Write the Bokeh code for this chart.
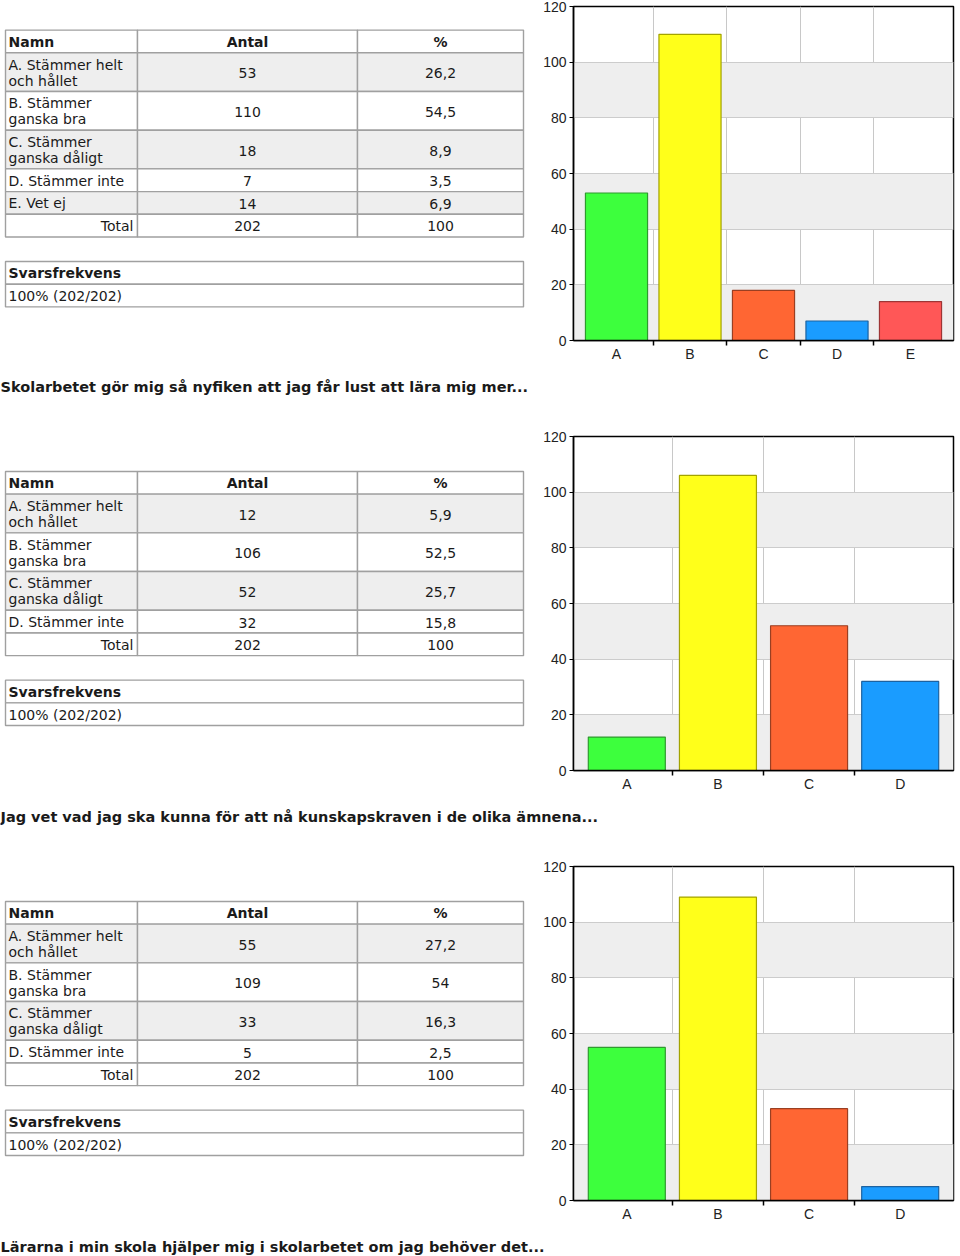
from bokeh.plotting import figure
from bokeh.models import Range1d, FixedTicker, ColumnDataSource
from bokeh.layouts import column, row
from bokeh.embed import file_html
from bokeh.resources import INLINE
from bokeh.core.properties import value

# ---------------- data ----------------
header = ["Namn", "Antal", "%"]
total_label = "Total"
rate_label = "Svarsfrekvens"

titles = [
    "Skolarbetet gör mig så nyfiken att jag får lust att lära mig mer...",
    "Jag vet vad jag ska kunna för att nå kunskapskraven i de olika ämnena...",
    "Lärarna i min skola hjälper mig i skolarbetet om jag behöver det...",
]

names_1 = ["A. Stämmer helt\noch hållet", "B. Stämmer\nganska bra",
           "C. Stämmer\nganska dåligt", "D. Stämmer inte", "E. Vet ej"]
letters_1 = ["A", "B", "C", "D", "E"]
counts_1 = [53, 110, 18, 7, 14]
pcts_1 = ["26,2", "54,5", "8,9", "3,5", "6,9"]

names_2 = ["A. Stämmer helt\noch hållet", "B. Stämmer\nganska bra",
           "C. Stämmer\nganska dåligt", "D. Stämmer inte"]
letters_2 = ["A", "B", "C", "D"]
counts_2 = [12, 106, 52, 32]
pcts_2 = ["5,9", "52,5", "25,7", "15,8"]

names_3 = ["A. Stämmer helt\noch hållet", "B. Stämmer\nganska bra",
           "C. Stämmer\nganska dåligt", "D. Stämmer inte"]
letters_3 = ["A", "B", "C", "D"]
counts_3 = [55, 109, 33, 5]
pcts_3 = ["27,2", "54", "16,3", "2,5"]

totals = [202, 202, 202]
total_pcts = ["100", "100", "100"]
rates = ["100% (202/202)", "100% (202/202)", "100% (202/202)"]

y_ticks = [0, 20, 40, 60, 80, 100, 120]

bar_fill = ["#3dff3d", "#ffff1a", "#ff6633", "#1a9cff", "#ff5757"]
bar_line = ["#2f9a2f", "#a3a300", "#9a3f22", "#1d62a0", "#9e3535"]

TXT = "#1a1a1a"
TFONT = value("DejaVu Sans")
CFONT = "Liberation Sans"
SEC_H = 372          # height of table/chart row
FR_TOP = 6           # frame top inside the row
FR_BOT = 340         # frame bottom inside the row


def table_fig(names, counts, pcts, total, total_pct, rate):
    p = figure(width=530, height=SEC_H, x_range=Range1d(0, 530),
               y_range=Range1d(FR_BOT, FR_TOP), output_backend="svg",
               toolbar_location=None, x_axis_location=None, y_axis_location=None,
               min_border_left=0, min_border_right=0,
               min_border_top=FR_TOP, min_border_bottom=SEC_H - FR_BOT)
    p.grid.visible = False
    p.outline_line_color = None
    cols = [(5, 137), (137, 357), (357, 523)]
    H1, H2 = 22.7, 38.7
    heights = [H1] + [H2 if "\n" in n else H1 for n in names] + [H1]
    gap = 24.5
    total_h = sum(heights) + gap + 2 * H1
    top = 168 - total_h / 2

    L, R, T, B, F = [], [], [], [], []
    tl = dict(x=[], y=[], t=[])
    tc = dict(x=[], y=[], t=[])
    tr = dict(x=[], y=[], t=[])
    bold = dict(x=[], y=[], t=[])
    boldc = dict(x=[], y=[], t=[])

    y = top
    for ri, h in enumerate(heights):
        fill = "#ffffff"
        if 1 <= ri <= len(names) and ri % 2 == 1:
            fill = "#eeeeee"
        for (a, b) in cols:
            L.append(a); R.append(b); T.append(y); B.append(y + h); F.append(fill)
        cy = y + h / 2
        if ri == 0:
            bold["x"].append(8); bold["y"].append(cy + 0.5); bold["t"].append(header[0])
            boldc["x"].append(sum(cols[1]) / 2); boldc["y"].append(cy + 0.5); boldc["t"].append(header[1])
            boldc["x"].append(sum(cols[2]) / 2); boldc["y"].append(cy + 0.5); boldc["t"].append(header[2])
        elif ri <= len(names):
            i = ri - 1
            lines = names[i].split("\n")
            if len(lines) == 2:
                tl["x"] += [8, 8]; tl["y"] += [cy - 7.5, cy + 8.5]; tl["t"] += lines
            else:
                tl["x"].append(8); tl["y"].append(cy + 0.5); tl["t"].append(lines[0])
            tc["x"].append(sum(cols[1]) / 2); tc["y"].append(cy + 1); tc["t"].append(str(counts[i]))
            tc["x"].append(sum(cols[2]) / 2); tc["y"].append(cy + 1); tc["t"].append(pcts[i])
        else:
            tr["x"].append(133); tr["y"].append(cy + 0.5); tr["t"].append(total_label)
            tc["x"].append(sum(cols[1]) / 2); tc["y"].append(cy + 0.5); tc["t"].append(str(total))
            tc["x"].append(sum(cols[2]) / 2); tc["y"].append(cy + 0.5); tc["t"].append(total_pct)
        y += h

    y += gap
    for k in range(2):
        L.append(5); R.append(523); T.append(y); B.append(y + H1); F.append("#ffffff")
        cy = y + H1 / 2
        if k == 0:
            bold["x"].append(8); bold["y"].append(cy + 0.5); bold["t"].append(rate_label)
        else:
            tl["x"].append(8); tl["y"].append(cy + 0.5); tl["t"].append(rate)
        y += H1

    p.quad(left=L, right=R, top=T, bottom=B, fill_color=F,
           line_color="#a0a0a0", line_width=1.4)

    def put(d, align, style):
        p.text(x=d["x"], y=d["y"], text=d["t"], text_align=align,
               text_baseline="middle", text_font=TFONT, text_font_size="14px",
               text_font_style=style, text_color=TXT)

    put(tl, "left", "normal")
    put(tc, "center", "normal")
    put(tr, "right", "normal")
    put(bold, "left", "bold")
    put(boldc, "center", "bold")
    return p


def bar_fig(letters, counts):
    n = len(letters)
    xs = list(range(n))
    src = ColumnDataSource(dict(x=xs, top=counts, fill=bar_fill[:n], line=bar_line[:n]))
    p = figure(width=430, height=SEC_H, x_range=Range1d(-0.585, n - 1 + 0.585),
               y_range=Range1d(y_ticks[0], y_ticks[-1]), output_backend="svg",
               toolbar_location=None, min_border_left=43, min_border_right=7,
               min_border_top=FR_TOP, min_border_bottom=SEC_H - FR_BOT)
    p.background_fill_color = "white"
    p.vbar(x="x", top="top", bottom=0, width=0.845, fill_color="fill",
           line_color="line", line_width=1.2, source=src)

    xt = FixedTicker(ticks=xs, minor_ticks=[i + 0.5 for i in range(n - 1)])
    p.xaxis.ticker = xt
    p.xaxis.major_label_overrides = {i: letters[i] for i in xs}
    p.xaxis.major_tick_out = 0
    p.xaxis.major_tick_in = 0
    p.xaxis.minor_tick_out = 5
    p.xaxis.minor_tick_in = 0
    p.xaxis.minor_tick_line_color = "black"
    p.xaxis.minor_tick_line_width = 1.5
    p.xaxis.major_label_standoff = 0

    p.yaxis.ticker = FixedTicker(ticks=y_ticks)
    p.yaxis.major_tick_out = 4
    p.yaxis.major_tick_in = 0
    p.yaxis.minor_tick_out = 0
    p.yaxis.minor_tick_in = 0
    p.yaxis.major_label_standoff = 3
    p.yaxis.major_tick_line_color = "black"

    for ax in (p.xaxis, p.yaxis):
        ax.axis_line_color = "black"
        ax.axis_line_width = 1.5
        ax.major_label_text_font = CFONT
        ax.major_label_text_font_size = "14px"
        ax.major_label_text_color = "#222222"

    p.xgrid.ticker = xt
    p.xgrid.grid_line_color = None
    p.xgrid.minor_grid_line_color = "#c8c8c8"
    # leading duplicate tick so that the shaded bands start at the bottom band
    p.ygrid.ticker = FixedTicker(ticks=[y_ticks[0]] + y_ticks)
    p.ygrid.grid_line_color = "#cccccc"
    p.ygrid.band_fill_color = "#eeeeee"
    p.ygrid.band_fill_alpha = 1.0

    p.outline_line_color = "black"
    p.outline_line_width = 1.5
    p.outline_line_alpha = 1.0
    return p


def title_fig(text, h):
    p = figure(width=960, height=h, x_range=Range1d(0, 960), y_range=Range1d(h, 0),
               output_backend="svg", toolbar_location=None, min_border=0,
               x_axis_location=None, y_axis_location=None)
    p.grid.visible = False
    p.outline_line_color = None
    p.text(x=[0], y=[14], text=[text], text_align="left", text_baseline="middle",
           text_font=TFONT, text_font_size="14.5px", text_font_style="bold",
           text_color=TXT)
    return p


sections = [
    (names_1, letters_1, counts_1, pcts_1),
    (names_2, letters_2, counts_2, pcts_2),
    (names_3, letters_3, counts_3, pcts_3),
]
title_heights = [58, 58, 24]

blocks = []
for k, (nm, lt, ct, pc) in enumerate(sections):
    t = table_fig(nm, ct, pc, totals[k], total_pcts[k], rates[k])
    b = bar_fig(lt, ct)
    blocks.append(row(t, b, spacing=0))
    blocks.append(title_fig(titles[k], title_heights[k]))

layout = column(*blocks, spacing=0)
open("out.html", "w").write(file_html(layout, INLINE))
